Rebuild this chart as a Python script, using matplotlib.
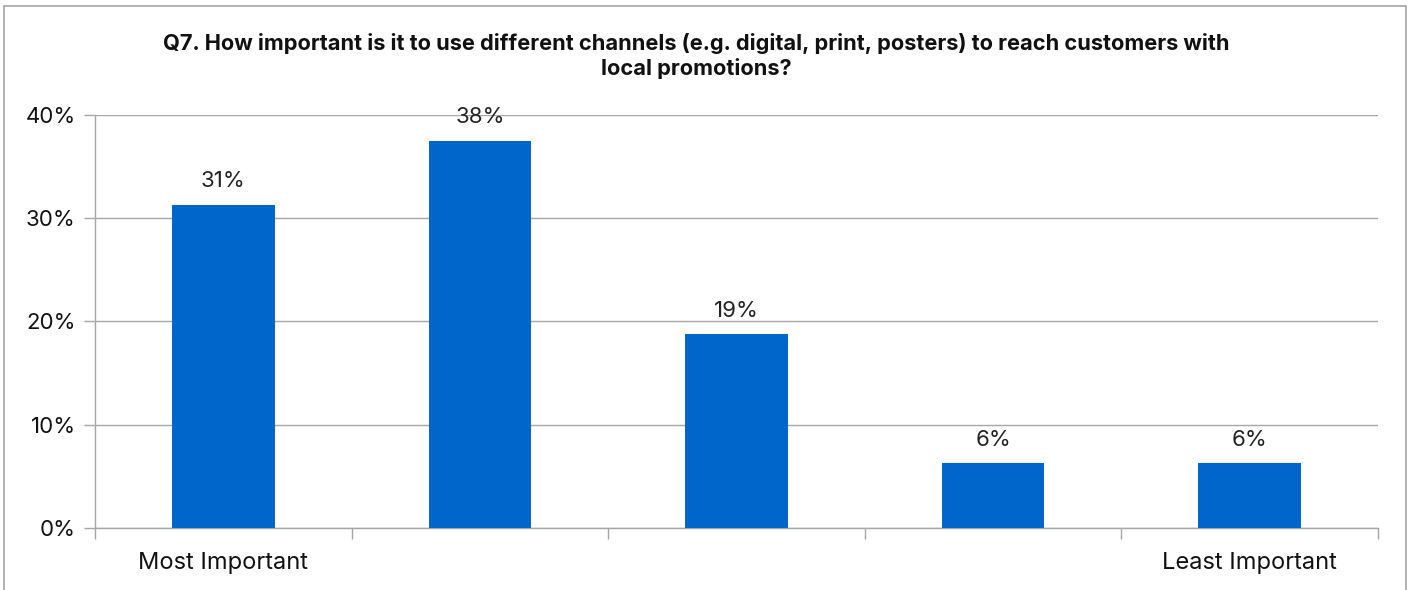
import matplotlib.pyplot as plt
from matplotlib.patches import Rectangle
from matplotlib.ticker import FuncFormatter, FixedLocator

# data
categories = ['Most Important', '', '', '', 'Least Important']
values = [31.25, 37.5, 18.75, 6.25, 6.25]
value_labels = ['31%', '38%', '19%', '6%', '6%']
title = ('Q7. How important is it to use different channels (e.g. digital, print, posters) to reach customers with\n'
         'local promotions?')

plt.rcParams['font.family'] = ['Inter', 'DejaVu Sans']

fig = plt.figure(figsize=(14.12, 5.90), dpi=100)
ax = fig.add_axes([0.0673, 0.1051, 0.9086, 0.7000])

# figure border
fig.patches.append(Rectangle((0.003, -0.01), 0.993, 1.0, transform=fig.transFigure,
                             fill=False, edgecolor='#A6A6A6', linewidth=1.2))

x = range(len(values))
ax.bar(x, values, width=0.4, color='#0066CC', zorder=3)
for xi, v, lab in zip(x, values, value_labels):
    ax.annotate(lab, (xi, v), xytext=(0, 10), textcoords='offset points',
                ha='center', va='bottom', fontsize=16, color='#222222')

ax.set_xlim(-0.5, len(values) - 0.5)
ax.set_ylim(0, 40)
ax.set_yticks([0, 10, 20, 30, 40])
ax.yaxis.set_major_formatter(FuncFormatter(lambda v, p: f'{v:.0f}%'))
ax.grid(axis='y', color='#A6A6A6', linewidth=1, zorder=0)

ax.set_xticks(list(x))
ax.set_xticklabels(categories)
ax.xaxis.set_minor_locator(FixedLocator([i - 0.5 for i in range(len(values) + 1)]))
ax.tick_params(axis='x', which='major', length=0, pad=17, labelsize=17, labelcolor='#111111')
ax.tick_params(axis='x', which='minor', length=8, color='#A6A6A6', width=1)
ax.tick_params(axis='y', length=8, color='#A6A6A6', width=1, pad=6, labelsize=16, labelcolor='#111111')

for s in ['top', 'right']:
    ax.spines[s].set_visible(False)
for s in ['left', 'bottom']:
    ax.spines[s].set_color('#A6A6A6')
    ax.spines[s].set_linewidth(1)

fig.text(0.493, 0.905, title, ha='center', va='center', fontsize=15.7,
         fontweight='bold', linespacing=1.2, color='#111111')

fig.savefig('out.png', dpi=100)
